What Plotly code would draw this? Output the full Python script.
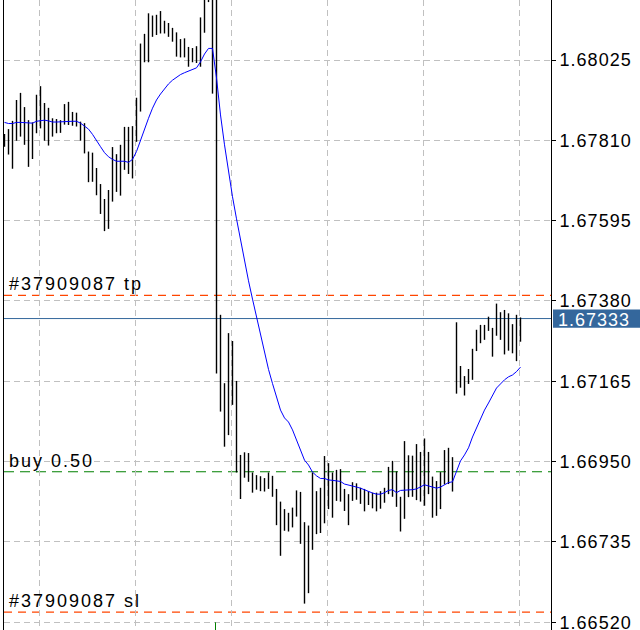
import plotly.graph_objects as go

# ---------------- data ----------------
bar_index = list(range(130))

highs = [
    1.67827, 1.67840, 1.67862, 1.67918, 1.67937, 1.67899, 1.67864, 1.67858, 1.67932, 1.67955,
    1.67910, 1.67897, 1.67869, 1.67867, 1.67864, 1.67907, 1.67913, 1.67886, 1.67884, 1.67860,
    1.67856, 1.67780, 1.67777, 1.67736, 1.67693, 1.67653, 1.67677, 1.67792, 1.67773, 1.67798,
    1.67846, 1.67846, 1.67848, 1.67924, 1.68069, 1.68095, 1.68150, 1.68144, 1.68146, 1.68156,
    1.68130, 1.68124, 1.68111, 1.68099, 1.68081, 1.68083, 1.68060, 1.68057, 1.68062, 1.68139,
    1.68194, 1.68207, 1.68199, 1.68191, 1.67343, 1.67160, 1.67294, 1.67273, 1.67166, 1.66968,
    1.66975, 1.66973, 1.66921, 1.66914, 1.66911, 1.66906, 1.66921, 1.66912, 1.66877, 1.66843,
    1.66823, 1.66813, 1.66827, 1.66873, 1.66869, 1.66788, 1.66779, 1.66921, 1.66871, 1.66880,
    1.66965, 1.66946, 1.66921, 1.66928, 1.66930, 1.66877, 1.66863, 1.66895, 1.66892, 1.66880,
    1.66877, 1.66871, 1.66867, 1.66867, 1.66871, 1.66880, 1.66936, 1.66952, 1.66924, 1.66856,
    1.67005, 1.66967, 1.66966, 1.66997, 1.66976, 1.67012, 1.66976, 1.66910, 1.66898, 1.66922,
    1.66981, 1.66987, 1.66962, 1.67323, 1.67206, 1.67179, 1.67198, 1.67252, 1.67303, 1.67316,
    1.67316, 1.67338, 1.67308, 1.67373, 1.67350, 1.67356, 1.67347, 1.67318, 1.67343, 1.67336,
]

lows = [
    1.67793, 1.67772, 1.67734, 1.67809, 1.67820, 1.67798, 1.67739, 1.67760, 1.67829, 1.67842,
    1.67809, 1.67796, 1.67820, 1.67829, 1.67830, 1.67852, 1.67851, 1.67849, 1.67847, 1.67809,
    1.67775, 1.67698, 1.67699, 1.67663, 1.67613, 1.67567, 1.67573, 1.67646, 1.67672, 1.67662,
    1.67731, 1.67720, 1.67708, 1.67806, 1.67887, 1.68019, 1.68019, 1.68087, 1.68092, 1.68096,
    1.68096, 1.68087, 1.68074, 1.68034, 1.68032, 1.68032, 1.68007, 1.68019, 1.68017, 1.68007,
    1.68098, 1.68180, 1.67935, 1.67186, 1.67084, 1.66990, 1.67021, 1.67102, 1.66921, 1.66850,
    1.66907, 1.66896, 1.66867, 1.66875, 1.66871, 1.66870, 1.66877, 1.66856, 1.66780, 1.66698,
    1.66765, 1.66763, 1.66774, 1.66803, 1.66730, 1.66570, 1.66598, 1.66714, 1.66756, 1.66759,
    1.66785, 1.66823, 1.66800, 1.66845, 1.66843, 1.66818, 1.66780, 1.66845, 1.66848, 1.66837,
    1.66817, 1.66834, 1.66825, 1.66817, 1.66824, 1.66840, 1.66863, 1.66856, 1.66829, 1.66763,
    1.66797, 1.66855, 1.66856, 1.66847, 1.66843, 1.66832, 1.66863, 1.66800, 1.66805, 1.66823,
    1.66889, 1.66890, 1.66870, 1.67132, 1.67148, 1.67127, 1.67158, 1.67169, 1.67246, 1.67267,
    1.67276, 1.67300, 1.67231, 1.67287, 1.67276, 1.67237, 1.67247, 1.67240, 1.67219, 1.67271,
]

ma_values = [
    1.67858, 1.67855, 1.67855, 1.67858, 1.67858, 1.67857, 1.67855, 1.67856, 1.67861, 1.67863,
    1.67864, 1.67862, 1.67859, 1.67859, 1.67860, 1.67861, 1.67861, 1.67861, 1.67861, 1.67856,
    1.67848, 1.67840, 1.67826, 1.67811, 1.67793, 1.67777, 1.67766, 1.67759, 1.67754, 1.67754,
    1.67754, 1.67751, 1.67759, 1.67780, 1.67811, 1.67838, 1.67869, 1.67896, 1.67918, 1.67934,
    1.67949, 1.67961, 1.67971, 1.67979, 1.67986, 1.67991, 1.67996, 1.68000, 1.68004, 1.68020,
    1.68041, 1.68056, 1.68056, 1.67977, 1.67878, 1.67798, 1.67725, 1.67659, 1.67600, 1.67541,
    1.67487, 1.67434, 1.67385, 1.67337, 1.67289, 1.67245, 1.67197, 1.67159, 1.67121, 1.67088,
    1.67067, 1.67056, 1.67035, 1.67008, 1.66976, 1.66954, 1.66941, 1.66922, 1.66912, 1.66905,
    1.66905, 1.66901, 1.66900, 1.66898, 1.66897, 1.66890, 1.66888, 1.66885, 1.66882, 1.66879,
    1.66874, 1.66870, 1.66866, 1.66863, 1.66863, 1.66867, 1.66873, 1.66875, 1.66867, 1.66873,
    1.66873, 1.66874, 1.66875, 1.66877, 1.66883, 1.66888, 1.66885, 1.66882, 1.66879, 1.66882,
    1.66888, 1.66894, 1.66896, 1.66925, 1.66952, 1.66968, 1.66987, 1.67016, 1.67040, 1.67064,
    1.67088, 1.67107, 1.67128, 1.67147, 1.67158, 1.67169, 1.67177, 1.67182, 1.67191, 1.67203,
]

tick_labels = ["1.68025", "1.67810", "1.67595", "1.67380",
               "1.67165", "1.66950", "1.66735", "1.66520"]
time_grid = [8.75, 32.75, 56.75, 80.75, 104.75, 128.75]

tp_price = 1.67395
sl_price = 1.66547
buy_price = 1.66923
bid_price = 1.67333
bid_label = "1.67333"
tp_label = "#37909087 tp"
sl_label = "#37909087 sl"
buy_label = "buy 0.50"
entry_bar = 53

y_range = [1.664994, 1.681856]
x_range = [-0.125, 136.625]

# ---------------- styles ----------------
FONT = "Liberation Sans, Arial, sans-serif"
FS = 18
SPACING = "letter-spacing:1px"
BID_BLUE = "#34679c"


def spaced(t, sp=SPACING):
    return f'<span style="{sp}">{t}</span>'


# ---------------- figure ----------------
seg_x, seg_y = [], []
for i, h, l in zip(bar_index, highs, lows):
    seg_x += [i, i, None]
    seg_y += [l, h, None]

fig = go.Figure()
fig.add_trace(go.Scatter(x=seg_x, y=seg_y, mode="lines",
                         line=dict(color="black", width=1.4),
                         hoverinfo="skip", showlegend=False))
fig.add_trace(go.Scatter(x=bar_index, y=ma_values, mode="lines",
                         line=dict(color="#0000ff", width=1),
                         hoverinfo="skip", showlegend=False))

shapes = []
for price, col, dash in [(tp_price, "#ff4500", "8px,6px"),
                         (sl_price, "#ff4500", "8px,6px"),
                         (buy_price, "#008000", "10px,6px")]:
    shapes.append(dict(type="line", xref="paper", x0=0, x1=1, yref="y",
                       y0=price, y1=price, layer="between",
                       line=dict(color=col, width=1.2, dash=dash)))
shapes.append(dict(type="line", xref="paper", x0=0, x1=1, yref="y",
                   y0=bid_price, y1=bid_price, layer="between",
                   line=dict(color=BID_BLUE, width=1)))
shapes.append(dict(type="rect", xref="paper", x0=1.0037, x1=1.163, yref="y",
                   y0=bid_price - 0.000245, y1=bid_price + 0.000245,
                   fillcolor=BID_BLUE, line=dict(width=0), layer="above"))
shapes.append(dict(type="line", xref="x", x0=entry_bar - 0.25, x1=entry_bar - 0.25,
                   yref="y", y0=y_range[0], y1=1.66520,
                   line=dict(color="#008000", width=1), layer="above"))

annotations = []
for price, txt in [(tp_price, tp_label), (buy_price, buy_label), (sl_price, sl_label)]:
    annotations.append(dict(xref="paper", x=0, xanchor="left", xshift=3,
                            yref="y", y=price, yanchor="bottom", yshift=-1,
                            text=spaced(txt, "letter-spacing:2px"), showarrow=False,
                            font=dict(family=FONT, size=FS, color="black")))
annotations.append(dict(xref="paper", x=1, xanchor="left", xshift=5,
                        yref="y", y=bid_price, yanchor="middle", yshift=-1,
                        text=spaced(bid_label), showarrow=False,
                        font=dict(family=FONT, size=FS, color="white")))

fig.update_layout(
    width=640, height=630,
    margin=dict(l=4, r=89, t=0, b=0, autoexpand=False),
    paper_bgcolor="white", plot_bgcolor="white",
    showlegend=False,
    shapes=shapes, annotations=annotations,
    xaxis=dict(range=x_range, tickvals=time_grid, showticklabels=False,
               automargin=False,
               showgrid=True, gridcolor="#c0c0c0", griddash="6px,4px", gridwidth=1,
               zeroline=False, showline=False, ticks=""),
    yaxis=dict(range=y_range, side="right", automargin=False,
               tickvals=[float(t) for t in tick_labels],
               ticktext=[spaced(t) for t in tick_labels],
               tickfont=dict(family=FONT, size=FS, color="black"),
               ticklabeloverflow="allow",
               ticks="outside", ticklen=4, tickcolor="black", tickwidth=1,
               showgrid=True, gridcolor="#c0c0c0", griddash="6px,4px", gridwidth=1,
               zeroline=False, showline=True, linecolor="black", linewidth=1,
               mirror=True),
)

fig.write_html("out.html", config={"displayModeBar": False},
               post_script="document.body.style.margin='0';document.body.style.overflow='hidden';")
